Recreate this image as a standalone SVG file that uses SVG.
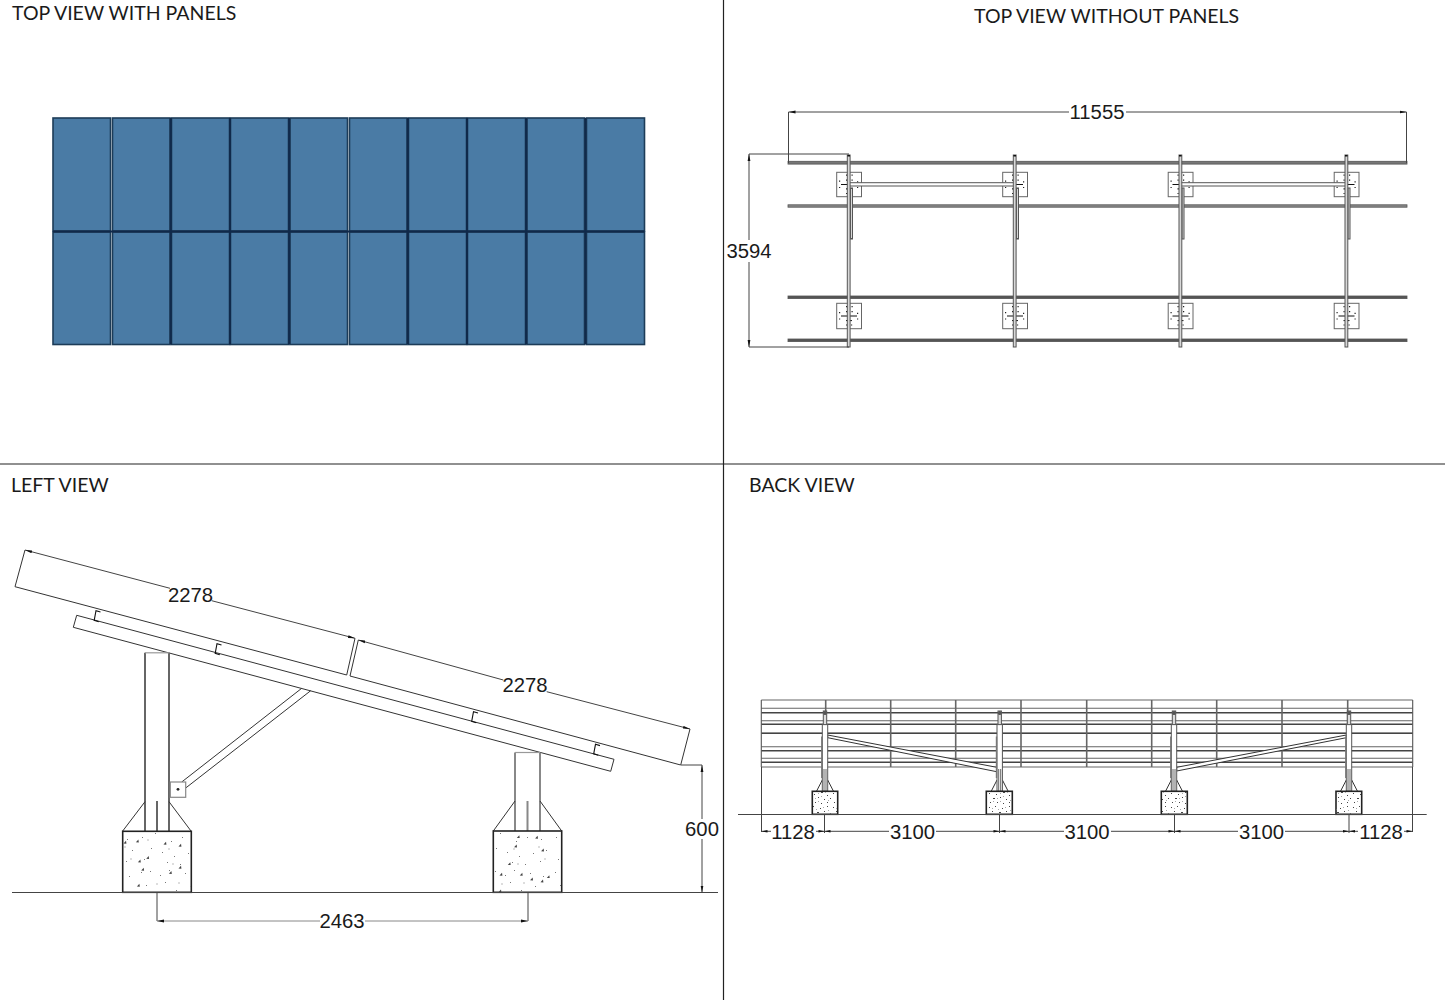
<svg xmlns="http://www.w3.org/2000/svg" width="1445" height="1000" viewBox="0 0 1445 1000">
<style>
.title{font-family:"Lato","Open Sans","Liberation Sans",sans-serif;font-size:19.5px;fill:#1a1a1a}
.num{font-family:"Liberation Sans",Arial,sans-serif;font-size:20.3px;fill:#1a1a1a;text-anchor:middle}
.frame{stroke:#222;stroke-width:1.2;fill:none}
.panel{fill:#4a7ba5;stroke:#1d3c58;stroke-width:1.6}
.seam{stroke:#10294a;stroke-width:2;fill:none}
.dim{stroke:#444;stroke-width:1;fill:none}
.ext{stroke:#444;stroke-width:1;fill:none}
.thin{stroke:#333;stroke-width:1;fill:none}
.clip{stroke:#111;stroke-width:1.1;fill:none}
.thick{stroke:#666;stroke-width:2;fill:none}
.rail{fill:#777;stroke:#555;stroke-width:.8}
.beam{fill:#d8d8d8;stroke:#555;stroke-width:1}
.plate{fill:#fff;stroke:#666;stroke-width:1}
.conc{stroke:#222;stroke-width:1.6}
.pl{stroke:#555;stroke-width:1.1;fill:none}
.pd{stroke:#666;stroke-width:1.6;fill:none}
.brace{fill:#fff;stroke:#333;stroke-width:1}
</style>
<defs>
<marker id="tick" viewBox="0 0 7 4" refX="7" refY="2" markerWidth="7" markerHeight="4" markerUnits="userSpaceOnUse" orient="auto-start-reverse"><path d="M0,.6L7,2L0,3.4z" fill="#111"/></marker>
<pattern id="grain" width="69" height="62" patternUnits="userSpaceOnUse"><path d="M3,4h1v1h-1zM12,3h1v1h-1zM22,7h1v1h-1zM31,2h1v1h-1zM47,5h1v1h-1zM60,8h1v1h-1zM8,17h1v1h-1zM27,14h1v1h-1zM38,22h1v1h-1zM52,18h1v1h-1zM64,24h1v1h-1zM17,27h1v1h-1zM4,31h1v1h-1zM33,35h1v1h-1zM44,31h1v1h-1zM58,33h1v1h-1zM13,42h1v1h-1zM24,46h1v1h-1zM36,50h1v1h-1zM50,47h1v1h-1zM63,44h1v1h-1zM6,53h1v1h-1zM29,56h1v1h-1zM42,58h1v1h-1zM57,55h1v1h-1z" fill="#777"/><path d="M18,15h2v2h-2zM9,33h2v2h-2zM40,14h2v2h-2zM30,42h2v2h-2zM55,40h2v2h-2zM34,57h2v2h-2zM61,52h2v2h-2z" fill="#ddd"/></pattern>
<pattern id="grain2" width="26" height="23" patternUnits="userSpaceOnUse"><path d="M1,2h1v1h-1zM7,1h1v1h-1zM14,3h1v1h-1zM21,1h1v1h-1zM4,6h1v1h-1zM11,7h2v1h-2zM18,6h1v1h-1zM24,8h1v1h-1zM1,11h1v1h-1zM8,12h1v1h-1zM15,10h2v1h-2zM21,13h1v1h-1zM5,16h2v1h-2zM12,15h1v1h-1zM18,17h1v1h-1zM24,16h1v1h-1zM2,20h1v1h-1zM9,20h1v1h-1zM15,21h1v1h-1zM21,20h1v1h-1z" fill="#444"/><path d="M4,3h1v1h-1zM10,4h1v1h-1zM17,2h1v1h-1zM22,5h1v1h-1zM3,9h1v1h-1zM12,11h1v1h-1zM19,10h1v1h-1zM9,16h1v1h-1zM15,14h1v1h-1zM22,18h1v1h-1zM5,19h1v1h-1zM12,19h1v1h-1z" fill="#aaa"/></pattern>
<path id="tri" d="M-1.5,1.2L1,-1.5L1.4,1.4z" fill="#444"/>
<g id="plate-a">
<rect class="plate" x="-12.3" y="-12.2" width="24.8" height="24.4"/>
<path d="M-3,-9.3h1.2M2.5,-9.3h1.2M-10,-3.3h1.2M8,-2.7h1.2M-3,-4.3h1.2M2.5,-4.3h1.2M-10,3h1.2M8,3h1.2M-3,4.3h2M1,4.3h2M-3,9h1.2M2,9h1.2" stroke="#222" stroke-width="1.2" fill="none"/>
<path d="M-8,0H8" stroke="#111" stroke-width="1" fill="none"/>
</g>
<g id="plate-b">
<rect class="plate" x="-12.3" y="-12.7" width="24.8" height="25.4"/>
<path d="M-3,-9.3h1.2M2.5,-9.3h1.2M-10,-3.3h1.2M8,-2.7h1.2M-3,-4.3h1.2M2.5,-4.3h1.2M-10,3h1.2M8,3h1.2M-3,9h1.2M2,9h1.2" stroke="#222" stroke-width="1.2" fill="none"/>
<path d="M-8,0H8M-3,4.6H3" stroke="#111" stroke-width="1" fill="none"/>
</g>
<g id="bpost">
<path class="thin" d="M-2.7,69L-8.5,80.3M2.7,69L8.5,80.3"/>
<rect x="-1.7" y="0" width="3.4" height="14" fill="#ddd" stroke="#555" stroke-width="1"/>
<rect x="-1.7" y="0" width="3.4" height="4" fill="#555" rx="1.5"/>
<rect x="-2.7" y="13.6" width="5.4" height="66.7" fill="#fff" stroke="#555" stroke-width="1"/>
<path d="M-3.2,25.5V67" stroke="#777" stroke-width="1.4" fill="none"/>
<path d="M-1,58V80.3M1,58V80.3" stroke="#666" stroke-width="1" fill="none"/>
</g>
</defs>
<rect width="1445" height="1000" fill="#fff"/>

<g id="view-frame">
<path class="frame" d="M723.5,0V1000M0,464H1445"/>
</g>

<g id="titles">
<text class="title" x="12" y="19.5">TOP VIEW WITH PANELS</text>
<text class="title" x="974" y="22.5">TOP VIEW WITHOUT PANELS</text>
<text class="title" x="11" y="491.5">LEFT VIEW</text>
<text class="title" x="749" y="491.5">BACK VIEW</text>
</g>

<g id="top-view-panels">
<rect class="panel" x="53" y="118" width="57.5" height="113"/><rect class="panel" x="112.5" y="118" width="57.5" height="113"/><rect class="panel" x="171.5" y="118" width="58" height="113"/><rect class="panel" x="230.5" y="118" width="58" height="113"/><rect class="panel" x="290" y="118" width="57.5" height="113"/><rect class="panel" x="349.5" y="118" width="57.5" height="113"/><rect class="panel" x="408.5" y="118" width="58" height="113"/><rect class="panel" x="467.5" y="118" width="58" height="113"/><rect class="panel" x="527" y="118" width="57.5" height="113"/><rect class="panel" x="586.5" y="118" width="58" height="113"/>
<rect class="panel" x="53" y="232" width="57.5" height="112.5"/><rect class="panel" x="112.5" y="232" width="57.5" height="112.5"/><rect class="panel" x="171.5" y="232" width="58" height="112.5"/><rect class="panel" x="230.5" y="232" width="58" height="112.5"/><rect class="panel" x="290" y="232" width="57.5" height="112.5"/><rect class="panel" x="349.5" y="232" width="57.5" height="112.5"/><rect class="panel" x="408.5" y="232" width="58" height="112.5"/><rect class="panel" x="467.5" y="232" width="58" height="112.5"/><rect class="panel" x="527" y="232" width="57.5" height="112.5"/><rect class="panel" x="586.5" y="232" width="58" height="112.5"/>
<path class="seam" d="M170.8,118V344.5M230,118V344.5M289.2,118V344.5M407.8,118V344.5M467,118V344.5M526.2,118V344.5M585.5,118V344.5M53,231.5H644.5"/>
</g>

<g id="top-view-structure">
<use href="#plate-a" x="849" y="184.5"/><use href="#plate-a" x="1015" y="184.5"/><use href="#plate-a" x="1180.5" y="184.5"/><use href="#plate-a" x="1346.5" y="184.5"/>
<use href="#plate-b" x="849" y="316"/><use href="#plate-b" x="1015" y="316"/><use href="#plate-b" x="1180.5" y="316"/><use href="#plate-b" x="1346.5" y="316"/>
<rect class="beam" x="849" y="182.7" width="166" height="3.3" style="fill:#fff"/>
<rect class="beam" x="1180.5" y="182.7" width="166" height="3.3" style="fill:#fff"/>
<rect class="rail" x="788" y="161.3" width="619" height="2.8"/>
<rect class="rail" x="788" y="204.8" width="619" height="2.4" style="fill:#888"/>
<rect class="rail" x="788" y="296" width="619" height="2.6" style="fill:#555"/>
<rect class="rail" x="788" y="339" width="619" height="2.6" style="fill:#555"/>
<rect class="beam" x="850.5" y="188" width="2" height="51"/><rect class="beam" x="1016.5" y="188" width="2" height="51"/><rect class="beam" x="1182" y="188" width="2" height="51"/><rect class="beam" x="1348" y="188" width="2" height="51"/>
<rect class="beam" x="847.3" y="155" width="2.8" height="192"/><rect class="beam" x="1013.3" y="155" width="2.8" height="192"/><rect class="beam" x="1179" y="155" width="2.8" height="192"/><rect class="beam" x="1345" y="155" width="2.8" height="192"/>
<path d="M847.5,155h2.5v1.5h-2.5zM1013.5,155h2.5v1.5h-2.5zM1179,155h2.5v1.5h-2.5zM1345,155h2.5v1.5h-2.5z" fill="#111"/>
</g>

<g id="top-view-dims">
<path class="ext" d="M788.5,112V163M1406.5,112V163M749,154H849M749,347H849"/>
<path class="dim" d="M788.5,112H1069" marker-start="url(#tick)"/>
<path class="dim" d="M1126,112H1406.5" marker-end="url(#tick)"/>
<path class="dim" d="M749,154V240" marker-start="url(#tick)"/>
<path class="dim" d="M749,262V347" marker-end="url(#tick)"/>
<text class="num" x="1097" y="119">11555</text>
<text class="num" x="749" y="258">3594</text>
</g>

<g id="left-view-panels">
<path class="thin" d="M25,550L15,586.7L346.7,675L355,638.3"/>
<path class="thin" d="M358.3,640L350,676L680.7,765L690,729"/>
</g>

<g id="left-view-rail">
<path class="thin" d="M76.7,615.3L73.3,627.3L610.7,771.3L614,759.3z"/>
<path class="clip" d="M100.5,612L96,610.7L94.2,620.3L98.8,621.7M221.5,645L217,643.7L215.2,653.3L219.8,654.7M478,713L473.5,711.7L471.7,721.3L476.3,722.7M600,745.6L595.5,744.3L593.7,753.9L598.3,755.3"/>
</g>

<g id="left-view-post-1">
<path class="thick" d="M145,652.8V831M169,652.8V831M157,801V831"/>
<path d="M145,652.8H169" stroke="#999" stroke-width="1.2"/>
<path class="thin" d="M145,801.7L122.7,831M169,801.7L191,831"/>
<path class="thin" d="M181.7,782L301.7,688.3M185.7,788L310.7,690.7"/>
<rect x="170.3" y="782" width="15.4" height="15.3" fill="#fff" stroke="#888" stroke-width="1.2"/>
<circle cx="178" cy="789.3" r="1.4" fill="#222"/>
<rect class="conc" x="122.7" y="831.3" width="68.6" height="61" fill="#fff"/>
<rect x="123.5" y="832" width="67" height="59.6" fill="url(#grain)"/>
<g transform="translate(122.7,831.3)"><use href="#tri" x="2.3" y="11"/><use href="#tri" x="14.7" y="9.7"/><use href="#tri" x="42.3" y="12"/><use href="#tri" x="57.3" y="14"/><use href="#tri" x="16.7" y="29.7"/><use href="#tri" x="25" y="26.3"/><use href="#tri" x="20" y="38"/><use href="#tri" x="57.3" y="36"/><use href="#tri" x="47.7" y="41.3"/><use href="#tri" x="15.7" y="54"/></g>
</g>

<g id="left-view-post-2">
<path class="thick" d="M515,752.5V831M540,752.5V831M527.5,801V831" style="stroke:#888"/>
<path d="M515,752.5H540" stroke="#999" stroke-width="1.2"/>
<path class="thin" d="M515,801L493.3,831M540,801L561.7,831"/>
<rect class="conc" x="493.3" y="831" width="68.4" height="61.3" fill="#fff"/>
<rect x="494" y="832" width="67" height="59.6" fill="url(#grain)"/>
<g transform="translate(493.3,831)"><use href="#tri" x="25" y="5.7"/><use href="#tri" x="43.3" y="6.3"/><use href="#tri" x="22.3" y="15"/><use href="#tri" x="49.3" y="19"/><use href="#tri" x="16" y="32.7"/><use href="#tri" x="7.7" y="43.3"/><use href="#tri" x="28" y="43.3"/><use href="#tri" x="38.3" y="48"/><use href="#tri" x="48.7" y="50"/><use href="#tri" x="55" y="45.7"/><use href="#tri" x="6.7" y="60"/></g>
</g>

<g id="left-view-dims">
<path d="M12,892.5H718" stroke="#444" stroke-width="1" fill="none"/>
<path class="dim" d="M25,550L170,588.3" marker-start="url(#tick)"/>
<path class="dim" d="M211.7,600.7L355,638.3" marker-end="url(#tick)"/>
<path class="dim" d="M358.3,640L503.3,680" marker-start="url(#tick)"/>
<path class="dim" d="M546.7,691.7L690,729" marker-end="url(#tick)"/>
<path class="ext" d="M157,892.5V921M528,892.5V921M681,765H702"/>
<path class="dim" d="M157,921H320" marker-start="url(#tick)" style="stroke:#888"/>
<path class="dim" d="M365,921H528" marker-end="url(#tick)" style="stroke:#888"/>
<path class="dim" d="M702,765V819" marker-start="url(#tick)"/>
<path class="dim" d="M702,839V892.5" marker-end="url(#tick)"/>
<text class="num" x="190.5" y="602">2278</text>
<text class="num" x="525" y="692">2278</text>
<text class="num" x="342" y="928">2463</text>
<text class="num" x="702" y="836">600</text>
</g>

<g id="back-view-panels">
<path class="pl" d="M761.3,700H1412.7M761.3,708.3H1412.7M761.3,720.7H1412.7M761.3,733.3H1412.7M761.3,746.7H1412.7M761.3,758.3H1412.7M761.3,767H1412.7" style="stroke:#666"/>
<path d="M761.3,712.7H1412.7M761.3,724.3H1412.7M761.3,733.3H1412.7M761.3,750.7H1412.7M761.3,762.3H1412.7" stroke="#444" stroke-width="1.5" fill="none"/>
<path class="pl" d="M761.3,700V767M1412.7,700V767"/>
<path class="pd" d="M825.7,700V767M890.7,700V767M955.7,700V767M1021,700V767M1086.7,700V767M1151.7,700V767M1216.7,700V767M1282,700V767M1347.7,700V767"/>
</g>

<g id="back-view-braces">
<path class="brace" d="M827.7,735L996.7,767.3V771.7L827.7,737.7z"/>
<path class="brace" d="M1176.7,767.3L1346.3,735V737.7L1176.7,771z"/>
</g>

<g id="back-view-post-1"><use href="#bpost" x="825" y="711"/><rect class="conc" x="812.3" y="791.3" width="25.4" height="23" fill="#fff"/><rect x="813" y="792" width="24" height="21.6" fill="url(#grain2)"/></g>
<g id="back-view-post-2"><use href="#bpost" x="999.7" y="711"/><rect class="conc" x="986.3" y="791.3" width="26" height="23" fill="#fff"/><rect x="987" y="792" width="24.6" height="21.6" fill="url(#grain2)"/></g>
<g id="back-view-post-3"><use href="#bpost" x="1174" y="711"/><rect class="conc" x="1161.3" y="791.3" width="26" height="23" fill="#fff"/><rect x="1162" y="792" width="24.6" height="21.6" fill="url(#grain2)"/></g>
<g id="back-view-post-4"><use href="#bpost" x="1349" y="711"/><rect class="conc" x="1336" y="791.3" width="25.7" height="23" fill="#fff"/><rect x="1336.7" y="792" width="24.3" height="21.6" fill="url(#grain2)"/></g>

<g id="back-view-dims">
<path d="M738,814.5H1426.7" stroke="#444" stroke-width="1" fill="none"/>
<path class="ext" d="M761.5,767V832M824.5,814.5V833M999.5,814.5V833M1174.5,814.5V833M1349,814.5V833M1412.5,767V832"/>
<path class="dim" d="M761.5,831.3H771M816,831.3H824.5M824.5,831.3H889M936,831.3H999.5M999.5,831.3H1064M1111,831.3H1174.5M1174.5,831.3H1238M1285,831.3H1349M1349,831.3H1358M1404,831.3H1412.5"/>
<path d="M761.5,831.3l6,-1.2v2.4zM824.5,831.3l-6,-1.2v2.4zM824.5,831.3l6,-1.2v2.4zM999.5,831.3l-6,-1.2v2.4zM999.5,831.3l6,-1.2v2.4zM1174.5,831.3l-6,-1.2v2.4zM1174.5,831.3l6,-1.2v2.4zM1349,831.3l-6,-1.2v2.4zM1349,831.3l6,-1.2v2.4zM1412.5,831.3l-6,-1.2v2.4z" fill="#111"/>
<text class="num" x="793" y="839">1128</text>
<text class="num" x="912.5" y="839">3100</text>
<text class="num" x="1087" y="839">3100</text>
<text class="num" x="1261.5" y="839">3100</text>
<text class="num" x="1381" y="839">1128</text>
</g>
</svg>
